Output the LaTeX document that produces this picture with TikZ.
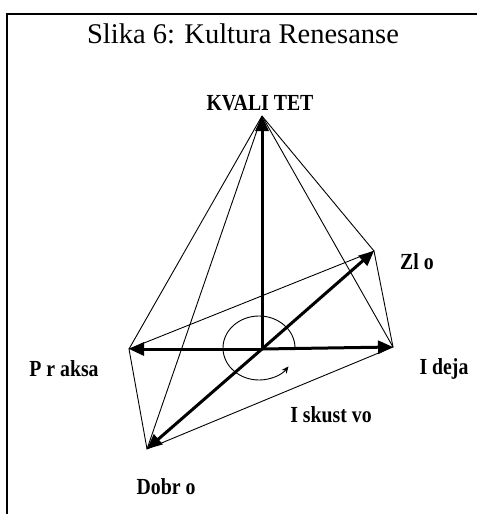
\documentclass[tikz,border=0pt]{standalone}
\usepackage{fontspec}
\setmainfont{Liberation Serif}
\usetikzlibrary{arrows.meta}

\begin{document}
\begin{tikzpicture}[
    x=1pt,y=-1pt,
    frame/.style={black,line width=2pt},
    axis/.style={black,line width=3pt,-{Triangle[length=15pt,width=13pt]}},
    facet/.style={black,line width=.9pt},
    spin/.style={black,line width=.9pt,-{Stealth[length=7pt,width=6pt]}},
    label/.style={font=\fontsize{23}{25}\selectfont\bfseries,inner sep=0pt,
      xscale=.86,transform shape}
  ]
    \useasboundingbox (0,0) rectangle (477,514);

    % Frame, cut off on the right and at the bottom.
    \draw[frame] (7,514)--(7,14)--(477,14);
    \node[inner sep=0pt,font=\fontsize{28.5}{32}\selectfont] (title) at (243,34)
      {Slika 6: Kultura Renesanse};

    % Apex, centre and the four corners of the base.
    \coordinate (O) at (262,349);
    \coordinate (T) at (262,116);
    \coordinate (L) at (129,349);
    \coordinate (R) at (393,347);
    \coordinate (Z) at (374,251);
    \coordinate (D) at (147,449);

    % Base and side edges of the pyramid.
    \draw[facet] (L)--(Z)--(R)--(D)--cycle;
    \draw[facet] (T)--(L);
    \draw[facet] (T)--(D);
    \draw[facet] (T)--(Z);
    \draw[facet] (T)--(R);

    % The five axes from the centre.
    \draw[axis] (O)--(T);
    \draw[axis] (O)--(L);
    \draw[axis] (O)--(R);
    \draw[axis] (O)--(Z);
    \draw[axis] (O)--(D);

    % Rotation round the vertical axis.
    \coordinate (S) at (295,348);
    \draw[spin] (S) arc[start angle=0,end angle=325,x radius=36pt,y radius=32pt];

    \node[label] (kvalitet) at (260,103) {KVALI TET};
    \node[label] (zlo)      at (417,262) {Zl o};
    \node[label] (ideja)    at (444,369) {I deja};
    \node[label] (praksa)   at (64,369)  {P r aksa};
    \node[label] (iskustvo) at (331,415) {I skust vo};
    \node[label] (dobro)    at (166,487) {Dobr o};
  \end{tikzpicture}
\end{document}
